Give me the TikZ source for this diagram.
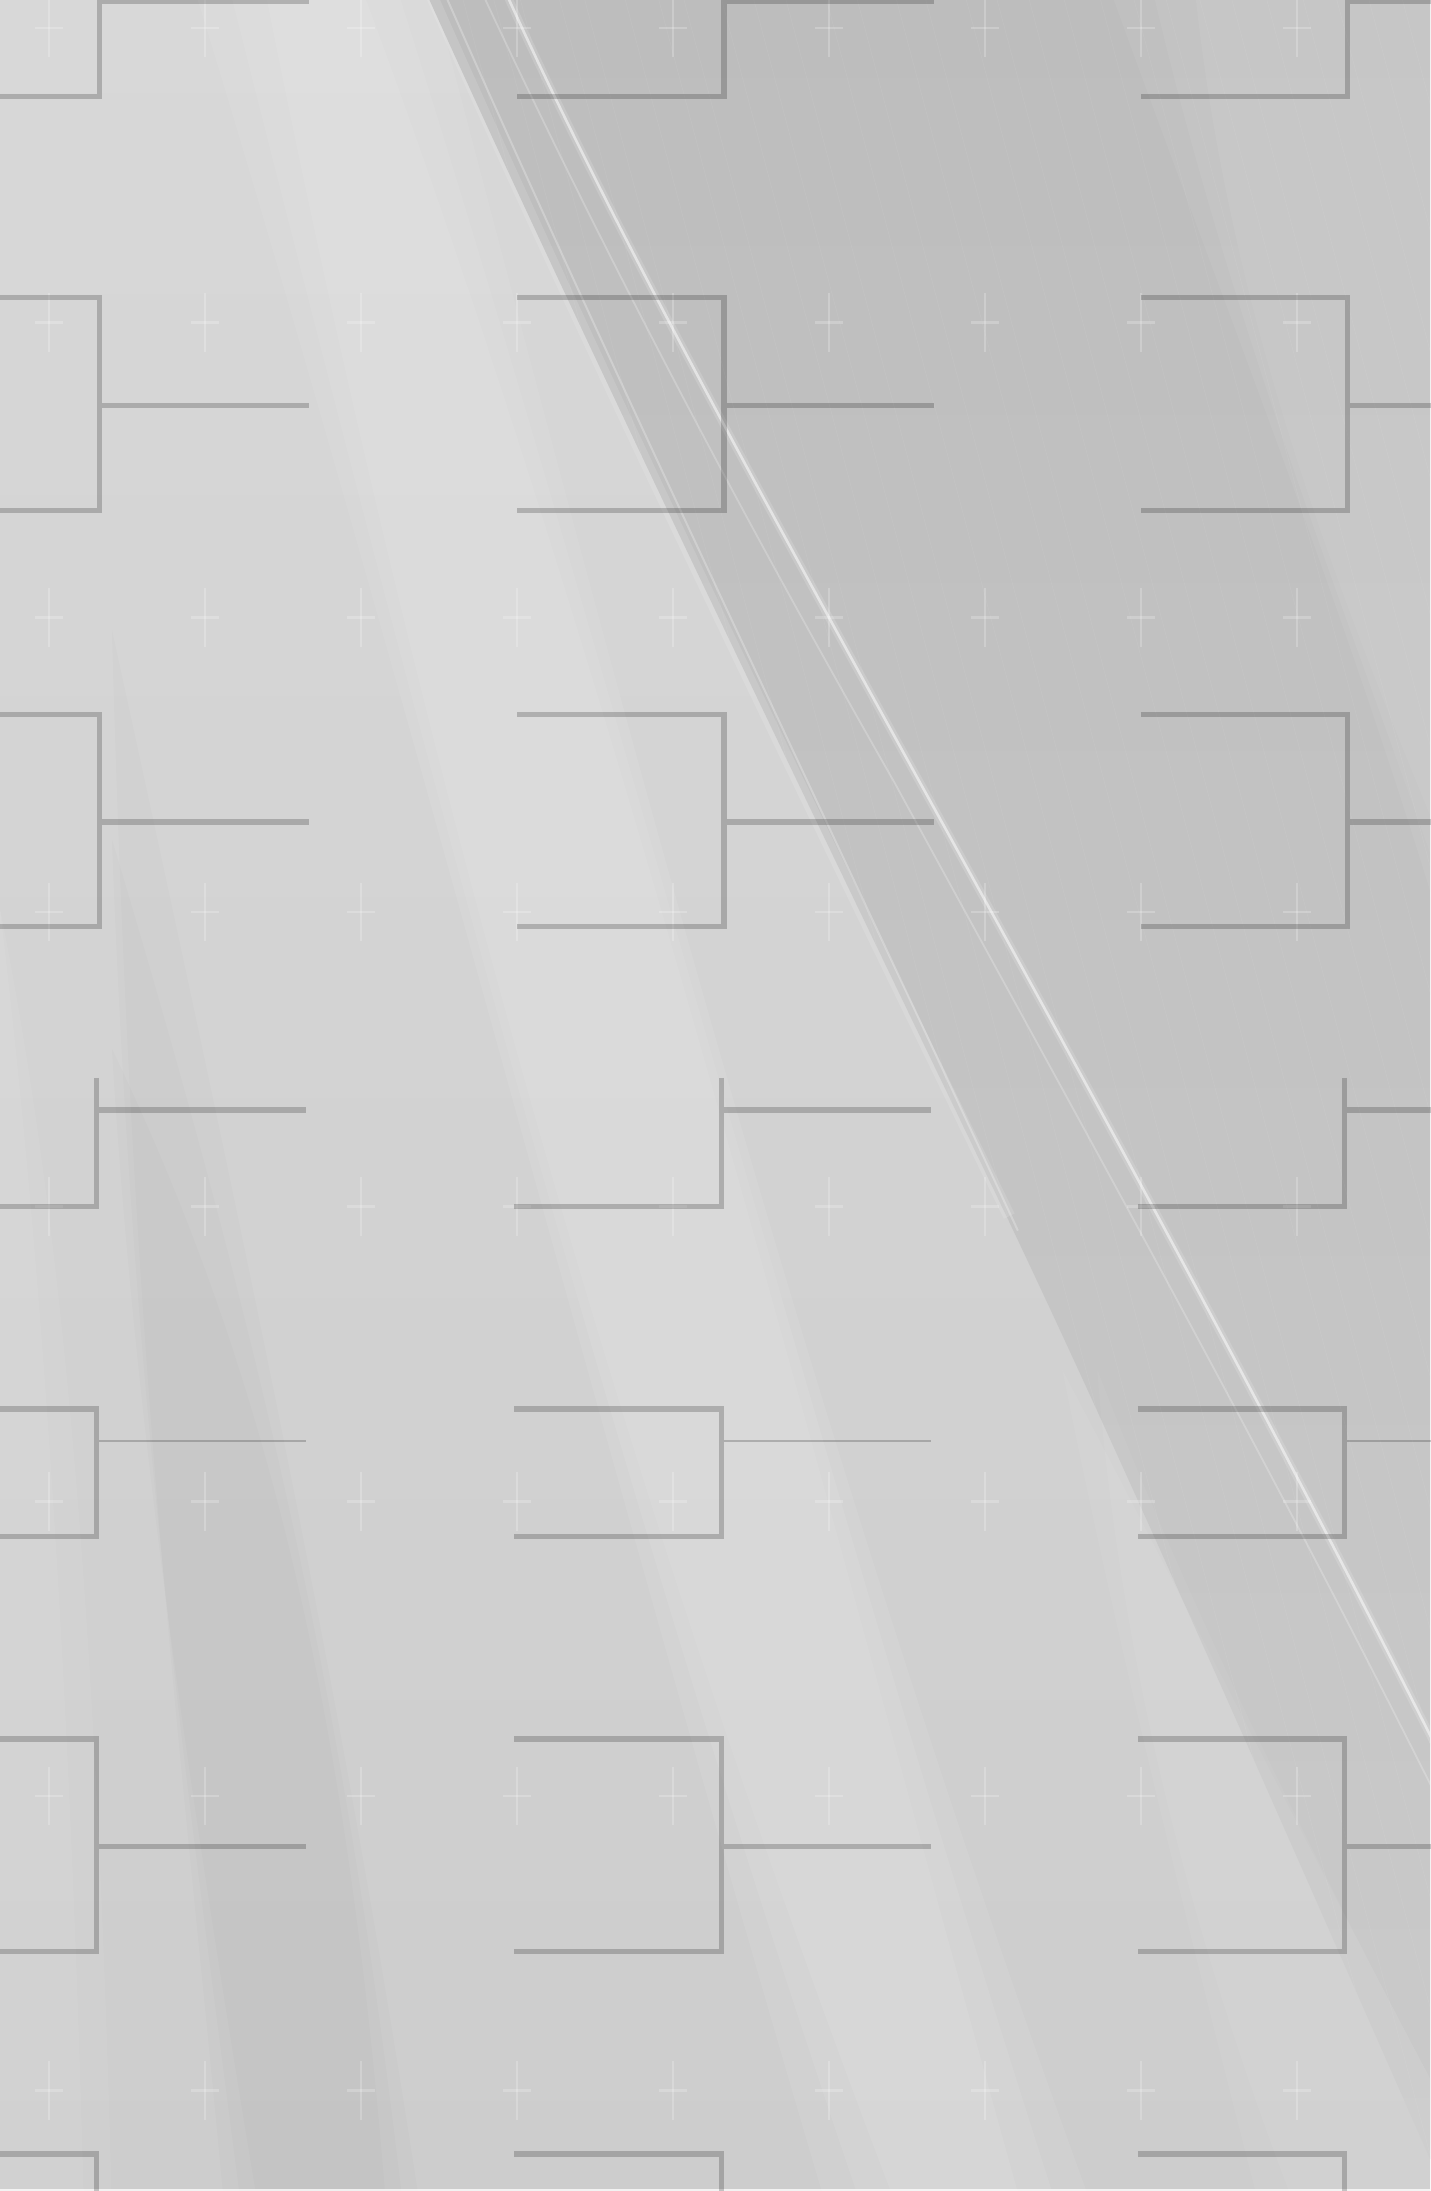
\documentclass[tikz,border=0pt]{standalone}
\definecolor{bgtop}{HTML}{D8D8D8}
\definecolor{bgbot}{HTML}{CDCDCD}
\definecolor{darktop}{HTML}{BDBDBD}
\definecolor{darkbot}{HTML}{CACACA}
\tikzset{
  arm/.style={draw=black, draw opacity=0.2, line width=2.7pt, line cap=butt, line join=miter},
  thinarm/.style={arm, line width=1.1pt},
  plusbar/.style={draw=white, draw opacity=0.22, line width=1.3pt},
  plusstem/.style={draw=white, draw opacity=0.22, line width=0.6pt},
  glow/.style={draw=white, line cap=round},
}
\begin{document}
\begin{tikzpicture}[x=0.699pt,y=-0.699pt]
\useasboundingbox (0,0) rectangle (1023,1567.4);
\begin{scope}
\clip (0,0) rectangle (1023,1567.4);
% base, light at top left
\shade[top color=bgtop, bottom color=bgbot] (-5,-5) rectangle (1030,1575);
% soft darker band lower left (tapered towards the top)
\foreach \sy/\o in {450/0,600/12,750/24}{
  \fill[black, opacity=0.012] (80,\sy) .. controls (95,1000) and (130,1250) .. (160+\o,1575) -- (300-\o,1575) .. controls (250,1250) and (200,1000) .. (80,\sy) -- cycle;
}
% broad light band (layered for soft edges)
\foreach \o in {0,25,50}{
  \fill[white, opacity=0.07] (140+\o,-5) -- (310-\o,-5) .. controls (430,450) and (570,1000) .. (780-\o,1575) -- (590+\o,1575) .. controls (420,1000) and (280,450) .. cycle;
}
% light streak far left
\foreach \o in {0,20}{
  \fill[white, opacity=0.06] (0,650) .. controls (30+\o,900) and (50+\o,1200) .. (60+\o,1575) -- (0,1575) -- cycle;
}
% dark region upper right
\shade[top color=darktop, bottom color=darkbot] (305,-5) .. controls (420,250) and (600,620) .. (720,870) .. controls (820,1080) and (950,1380) .. (1030,1560) -- (1030,-5) -- cycle;
% light band top right
\foreach \o in {0,30,60}{
  \fill[white, opacity=0.05] (795+\o,-5) -- (1030,-5) -- (1030,660-\o) .. controls (960,430) and (880,230) .. cycle;
}
% light area lower right
\foreach \o in {0,25}{
  \fill[white, opacity=0.05] (760+\o,980) .. controls (850,1150) and (950,1350) .. (1030,1500) -- (1030,1575) -- (900+\o,1575) .. controls (850,1380) and (800,1180) .. cycle;
}
% fine streaks in the dark region
\begin{scope}
\clip (305,-5) .. controls (420,250) and (600,620) .. (720,870) .. controls (820,1080) and (950,1380) .. (1030,1560) -- (1030,-5) -- cycle;
\foreach \s in {330,352,371,399,417,446,470,488,515,538,561,590,612,640,661,690,712,735,760,786,810,833,857,880,905,931,955,978,1002,1030,1060,1090,1120,1150}{
  \draw[white, opacity=0.06, line width=0.35pt] (\s,-5) -- (\s+420,1575);
}
\end{scope}
% soft edge of the dark region
\draw[white, opacity=0.12, line width=6pt] (308,-5) .. controls (420,250) and (600,620) .. (722,870);
\draw[glow, opacity=0.25, line width=1pt] (318,-5) .. controls (430,250) and (605,615) .. (728,880);
% main bright arc
\draw[glow, opacity=0.15, line width=4pt] (362,-5) .. controls (500,300) and (760,720) .. (1030,1255);
\draw[glow, opacity=0.5, line width=1.3pt] (362,-5) .. controls (500,300) and (760,720) .. (1030,1255);
% second faint arc
\draw[glow, opacity=0.22, line width=0.9pt] (345,-5) .. controls (450,220) and (560,420) .. (640,560) .. controls (760,780) and (900,1030) .. (1030,1290);
% bottom edge light line
\draw[white, opacity=0.75, line width=1.4pt] (-5,1566.6) -- (1030,1566.6);
% plus marks
\foreach \px in {35,146.6,258.2,369.8,481.4,593,704.6,816.2,927.8}{
  \foreach \py in {20,230.8,441.6,652.4,863.2,1074,1284.8,1495.6}{
    \draw[plusbar] (\px-10,\py) -- (\px+10,\py);
    \draw[plusstem] (\px,\py-21) -- (\px,\py+21);
  }
}
\end{scope}
% brackets, rows 0-2
\foreach \xa/\xv/\xe in {-5/71/221, 370/518/668, 816/964/1030}{
  \draw[arm] (\xv,-10) -- (\xv,69) -- (\xa,69);
  \draw[arm] (\xv+1.9,0.6) -- (\xe,0.6);
  \draw[arm] (\xa,213) -- (\xv,213) -- (\xv,365) -- (\xa,365);
  \draw[arm] (\xv+1.9,290) -- (\xe,290);
  \draw[arm] (\xa,511) -- (\xv,511) -- (\xv,663) -- (\xa,663);
  \draw[arm] (\xv+1.9,588) -- (\xe,588);
}
% brackets, rows 3-6
\foreach \xa/\xv/\xe in {-5/69/219, 368/516/666, 814/962/1030}{
  \draw[arm] (\xv,771) -- (\xv,863) -- (\xa,863);
  \draw[arm] (\xv+1.9,794) -- (\xe,794);
  \draw[arm] (\xa,1008) -- (\xv,1008) -- (\xv,1099) -- (\xa,1099);
  \draw[thinarm] (\xv+1.9,1031) -- (\xe,1031);
  \draw[arm] (\xa,1244) -- (\xv,1244) -- (\xv,1396) -- (\xa,1396);
  \draw[arm] (\xv+1.9,1321) -- (\xe,1321);
  \draw[arm] (\xa,1541) -- (\xv,1541) -- (\xv,1580);
}
\end{tikzpicture}
\end{document}
